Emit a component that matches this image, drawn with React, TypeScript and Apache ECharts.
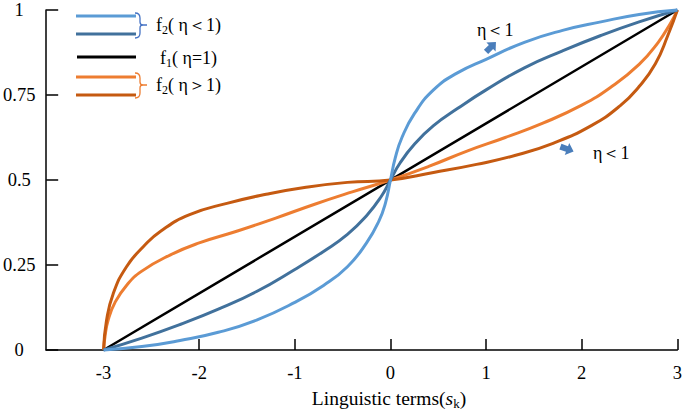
import React, { useEffect, useRef } from "react";
import * as echarts from "echarts";

// ---- data ----
const xTickValues = [-3, -2, -1, 0, 1, 2, 3];
const yTickLabels = ["0", "0.25", "0.5", "0.75", "1"];

const lightBlueX = [-3, -2.6, -2.2, -1.8, -1.4, -1.0, -0.7, -0.45, -0.25, -0.12, -0.05, 0, 0.05, 0.12, 0.25, 0.45, 0.7, 1.0, 1.4, 1.8, 2.2, 2.6, 3];
const lightBlueY = [0, 0.01, 0.028, 0.052, 0.088, 0.14, 0.19, 0.245, 0.315, 0.38, 0.435, 0.5, 0.565, 0.625, 0.695, 0.765, 0.815, 0.855, 0.905, 0.94, 0.965, 0.987, 1];

const darkBlueX = [-3, -2.6, -2.2, -1.8, -1.4, -1.0, -0.7, -0.45, -0.25, -0.1, 0, 0.1, 0.25, 0.45, 0.7, 1.0, 1.4, 1.8, 2.2, 2.6, 3];
const darkBlueY = [0, 0.035, 0.075, 0.12, 0.172, 0.237, 0.29, 0.34, 0.395, 0.45, 0.5, 0.55, 0.605, 0.66, 0.71, 0.765, 0.83, 0.88, 0.925, 0.965, 1];

const blackX = [-3, 3];
const blackY = [0, 1];

const lightOrangeX = [-3, -2.985, -2.95, -2.88, -2.76, -2.6, -2.3, -2.0, -1.6, -1.2, -0.8, -0.4, 0, 0.4, 0.8, 1.2, 1.6, 2.0, 2.3, 2.6, 2.8, 2.93, 3];
const lightOrangeY = [0, 0.04, 0.09, 0.14, 0.19, 0.232, 0.28, 0.315, 0.35, 0.388, 0.428, 0.465, 0.5, 0.54, 0.585, 0.625, 0.668, 0.72, 0.772, 0.84, 0.905, 0.962, 1];

const darkOrangeX = [-3, -2.97, -2.9, -2.76, -2.58, -2.4, -2.1, -1.7, -1.3, -0.9, -0.45, 0, 0.45, 0.9, 1.3, 1.7, 2.1, 2.4, 2.6, 2.77, 2.9, 3];
const darkOrangeY = [0, 0.085, 0.165, 0.245, 0.305, 0.35, 0.398, 0.432, 0.458, 0.478, 0.493, 0.5, 0.522, 0.546, 0.572, 0.608, 0.66, 0.718, 0.775, 0.842, 0.925, 1];

const zip = (xs: number[], ys: number[]) => xs.map((x, i) => [x, ys[i]]);

const SERIF = "Liberation Serif";
const C_LB = "#5B9BD5";
const C_DB = "#41719C";
const C_BK = "#000000";
const C_LO = "#ED7D31";
const C_DO = "#C55A11";
const C_ARROW = "#4A7EBB";

echarts.graphic.registerShape(
  "brace",
  echarts.graphic.extendPath(
    "M0,0 C4,0 5,2 5,5 L5,9 C5,11 6,12 8,12 L12,12 M8,12 C6,12 5,13 5,15 L5,20 C5,23 4,25 0,25",
    {}
  )
);

export default function App() {
  const ref = useRef<HTMLDivElement>(null);
  useEffect(() => {
    if (!ref.current) return;
    const chart = echarts.init(ref.current, undefined, { renderer: "svg" });

    const line = (name: string, data: number[][], color: string, w: number) => ({
      name,
      type: "line",
      data,
      smooth: 0.5,
      showSymbol: false,
      symbol: "none",
      clip: false,
      lineStyle: { color, width: w },
    });

    const subText = (x: number, y: number, sub: string, rest: string) => ({
      type: "text",
      x,
      y,
      style: {
        text: `{m|f}{s|${sub}}{m|${rest}}`,
        fill: "#000",
        rich: {
          m: { fontFamily: SERIF, fontSize: 18, fill: "#000", lineHeight: 20, verticalAlign: "bottom" },
          s: { fontFamily: SERIF, fontSize: 12, fill: "#000", lineHeight: 20, verticalAlign: "bottom", padding: [0, 0, -2, 0] },
        },
        verticalAlign: "middle",
      },
    });

    const arrowPts = [[-7, -3], [0, -3], [0, -6.5], [7, 0], [0, 6.5], [0, 3], [-7, 3]];

    chart.setOption({
      animation: false,
      grid: { left: 43, right: 6, top: 10, bottom: 61, containLabel: false },
      xAxis: {
        type: "value",
        min: -3.6,
        max: 3,
        splitLine: { show: false },
        axisLine: { show: true, onZero: false, lineStyle: { color: "#000", width: 1.5 } },
        axisTick: { show: true, inside: true, length: 11, customValues: xTickValues, lineStyle: { color: "#000", width: 1.5 } },
        axisLabel: {
          customValues: xTickValues,
          formatter: (v: number) => String(v),
          color: "#000",
          fontFamily: SERIF,
          fontSize: 18.5,
          margin: 13,
        },
      },
      yAxis: {
        type: "value",
        min: 0,
        max: 1,
        interval: 0.25,
        splitLine: { show: false },
        axisLine: { show: true, onZero: false, lineStyle: { color: "#000", width: 1.5 } },
        axisTick: { show: true, inside: true, length: 12, lineStyle: { color: "#000", width: 1.5 } },
        axisLabel: {
          formatter: (v: number) => yTickLabels[Math.round(v * 4)] ?? String(v),
          color: "#000",
          fontFamily: SERIF,
          fontSize: 18.5,
          align: "center",
          margin: 27,
        },
      },
      series: [
        line("f1", zip(blackX, blackY), C_BK, 2.5),
        line("f2 eta>1 a", zip(lightOrangeX, lightOrangeY), C_LO, 3),
        line("f2 eta>1 b", zip(darkOrangeX, darkOrangeY), C_DO, 3),
        line("f2 eta<1 b", zip(darkBlueX, darkBlueY), C_DB, 3),
        line("f2 eta<1 a", zip(lightBlueX, lightBlueY), C_LB, 3),
      ],
      graphic: [
        // legend lines
        { type: "line", shape: { x1: 76, y1: 16, x2: 136, y2: 16 }, style: { stroke: C_LB, lineWidth: 3 } },
        { type: "line", shape: { x1: 76, y1: 34, x2: 136, y2: 34 }, style: { stroke: C_DB, lineWidth: 3 } },
        { type: "line", shape: { x1: 77, y1: 57, x2: 136, y2: 57 }, style: { stroke: C_BK, lineWidth: 3 } },
        { type: "line", shape: { x1: 76, y1: 77, x2: 136, y2: 77 }, style: { stroke: C_LO, lineWidth: 3 } },
        { type: "line", shape: { x1: 76, y1: 95, x2: 136, y2: 95 }, style: { stroke: C_DO, lineWidth: 3 } },
        // braces
        { type: "brace", x: 135, y: 13, style: { stroke: "#4472C4", fill: null, lineWidth: 1.3 } },
        { type: "brace", x: 135, y: 73, style: { stroke: C_LO, fill: null, lineWidth: 1.3 } },
        // legend texts
        subText(156, 24, "2", "( η＜1)"),
        subText(160, 57, "1", "( η=1)"),
        subText(156, 84, "2", "( η＞1)"),
        // annotations
        { type: "text", x: 477, y: 30, style: { text: "η＜1", fontFamily: SERIF, fontSize: 18, fill: "#000", verticalAlign: "middle" } },
        { type: "text", x: 593, y: 153, style: { text: "η＜1", fontFamily: SERIF, fontSize: 18, fill: "#000", verticalAlign: "middle" } },
        { type: "polygon", x: 491, y: 47, rotation: Math.PI / 4, shape: { points: arrowPts }, style: { fill: C_ARROW } },
        { type: "polygon", x: 567, y: 149, rotation: -Math.PI / 9, shape: { points: arrowPts }, style: { fill: C_ARROW } },
        // x axis title
        {
          type: "text",
          x: 389,
          y: 397,
          style: {
            text: "{m|Linguistic terms(}{i|s}{k|k}{m|)}",
            align: "center",
            verticalAlign: "middle",
            rich: {
              m: { fontFamily: SERIF, fontSize: 19.5, fill: "#000", lineHeight: 22, verticalAlign: "bottom" },
              i: { fontFamily: SERIF, fontSize: 19.5, fontStyle: "italic", fill: "#000", lineHeight: 22, verticalAlign: "bottom" },
              k: { fontFamily: SERIF, fontSize: 13, fill: "#000", lineHeight: 22, verticalAlign: "bottom", padding: [0, 0, -2, 0] },
            },
          },
        },
      ],
    });
    return () => chart.dispose();
  }, []);
  return (
    <div
      ref={ref}
      style={{ position: "absolute", left: 0, top: 0, width: 685, height: 411, background: "#fff" }}
    />
  );
}
